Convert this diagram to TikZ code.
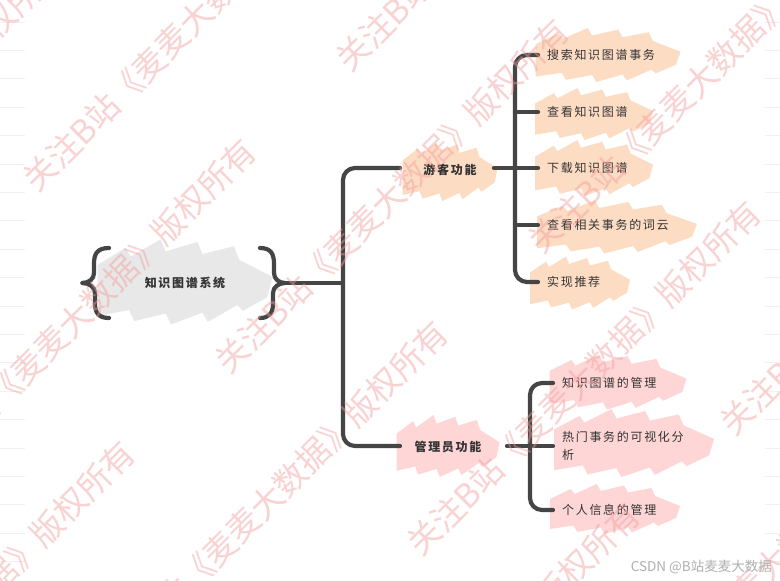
\documentclass[tikz,border=0pt]{standalone}
\usepackage{fontspec}
\newfontfamily\cjk{Noto Sans CJK SC}[LetterSpace=14]
\newfontfamily\wmf{Noto Sans CJK SC}
\newfontfamily\csdnf{Noto Sans CJK SC}
\definecolor{linec}{HTML}{454545}
\definecolor{peach}{HTML}{FDDCC4}
\definecolor{pinkc}{HTML}{FFD6D6}
\definecolor{greyc}{HTML}{E8E8E8}
\definecolor{txt}{HTML}{333333}
\definecolor{wmc}{HTML}{F39C9C}
\definecolor{faintc}{HTML}{F0F0F0}
\newcommand\jagblob[5]{%
  \fill[#5,shift={(#1,#2)},xscale=#3,yscale=#4]
    (-0.50,-0.20) -- (-0.34,-0.40) -- (-0.31,-0.30) -- (-0.14,-0.50) -- (-0.11,-0.36)
    -- (0.07,-0.47) -- (0.10,-0.33) -- (0.28,-0.42) -- (0.31,-0.26) -- (0.50,-0.06)
    -- (0.47,0.18) -- (0.33,0.34) -- (0.30,0.27) -- (0.13,0.47) -- (0.10,0.36)
    -- (-0.08,0.50) -- (-0.11,0.37) -- (-0.29,0.46) -- (-0.32,0.33) -- (-0.50,0.40) -- cycle;}
\tikzset{
  conn/.style={draw=linec,line width=4.2pt,line cap=round,line join=round},
  lvlzero/.style={font={\cjk\bfseries\fontsize{12}{14}\selectfont},text=txt,inner sep=0pt},
  lvlone/.style={font={\cjk\bfseries\fontsize{12}{14}\selectfont},text=txt,inner sep=0pt},
  leaf/.style={font={\cjk\fontsize{12}{18}\selectfont},text=txt,inner sep=0pt,anchor=west,align=left},
  wm/.style={font={\wmf\fontsize{33}{36}\selectfont},text=wmc,text opacity=0.45,rotate=45,inner sep=0pt},
  faint/.style={draw=faintc,line width=1pt}
}
\begin{document}
\begin{tikzpicture}[x=1pt,y=-1pt]
\useasboundingbox (0,0) rectangle (780,581);
\fill[white] (0,0) rectangle (780,581);
\foreach \k in {0,...,19}{
  \draw[faint] (0,{22+28.4*\k}) -- (25,{22+28.4*\k});
  \draw[faint] (765,{22+28.4*\k}) -- (780,{22+28.4*\k});
}
% blobs
\jagblob{185}{282}{175}{85}{greyc}
\jagblob{450}{172}{95}{58}{peach}
\jagblob{608}{55}{145}{54}{peach}
\jagblob{594}{114}{118}{52}{peach}
\jagblob{594}{168}{118}{56}{peach}
\jagblob{617}{227}{160}{53}{peach}
\jagblob{580}{283}{100}{53}{peach}
\jagblob{448}{446}{103}{62}{pinkc}
\jagblob{618}{382}{137}{55}{pinkc}
\jagblob{634}{443}{160}{68}{pinkc}
\jagblob{615}{509}{130}{50}{pinkc}
% nodes
\node[lvlzero] (root) at (185,283) {知识图谱系统};
\node[lvlone] (guest) at (450,170) {游客功能};
\node[lvlone] (admin) at (448,447) {管理员功能};
\node[leaf] (g1) at (547,55) {搜索知识图谱事务};
\node[leaf] (g2) at (547,112) {查看知识图谱};
\node[leaf] (g3) at (547,168) {下载知识图谱};
\node[leaf] (g4) at (547,225) {查看相关事务的词云};
\node[leaf] (g5) at (547,282) {实现推荐};
\node[leaf] (a1) at (562,383) {知识图谱的管理};
\node[leaf] (a2) at (562,446) {热门事务的可视化分\\析};
\node[leaf] (a3) at (562,510) {个人信息的管理};
% braces
\draw[conn] (109,248) .. controls (97,248) and (94,254) .. (94,264) -- (94,273)
  .. controls (94,279) and (89,283) .. (82,283)
  .. controls (89,283) and (95,287) .. (95,293) -- (95,304)
  .. controls (95,313) and (99,318) .. (109,318);
\draw[conn] (260,248) .. controls (271,248) and (274,254) .. (274,264) -- (274,273)
  .. controls (274,279) and (279,283) .. (285,283)
  .. controls (279,283) and (273,287) .. (273,293) -- (273,304)
  .. controls (273,313) and (269,318) .. (260,318);
% trunk
\coordinate (rb) at (285,283);
\coordinate (tj) at (343,283);
\coordinate (gin) at (400,168);
\coordinate (ain) at (400,446);
\draw[conn] (rb) -- (tj);
\draw[conn,rounded corners=12pt] (gin) -| (tj) |- (ain);
% guest group
\coordinate (gout) at (494,168);
\draw[conn,rounded corners=12pt] ([xshift=-9pt]g1.west) -| ([xshift=-32pt]g5.west) -- ([xshift=-9pt]g5.west);
\draw[conn] ([xshift=-32pt]g2.west) -- ([xshift=-9pt]g2.west);
\draw[conn] (gout) -- ([xshift=-9pt]g3.west);
\draw[conn] ([xshift=-32pt]g4.west) -- ([xshift=-9pt]g4.west);
% admin group
\coordinate (aout) at (507,446);
\draw[conn,rounded corners=12pt] ([xshift=-9pt]a1.west) -| ([xshift=-32pt]a3.west) -- ([xshift=-9pt]a3.west);
\draw[conn] (aout) -- ([xshift=-9pt]a2.west);
% watermark
\begin{scope}
\clip (0,0) rectangle (780,581);
\foreach \m in {-2,...,3}{
  \foreach \n in {-2,...,3}{
    \node[wm] (wm\m\n) at ({392-121*\m+313*\n},{196+302*\m-120*\n}) {关注B站《麦麦大数据》版权所有};
  }
}
\end{scope}
\node[font={\csdnf\fontsize{13.5}{14}\selectfont},text={rgb,255:red,175;green,175;blue,175},anchor=east,inner sep=0pt] (csdn) at (772,567) {CSDN @B站麦麦大数据};
\end{tikzpicture}
\end{document}
